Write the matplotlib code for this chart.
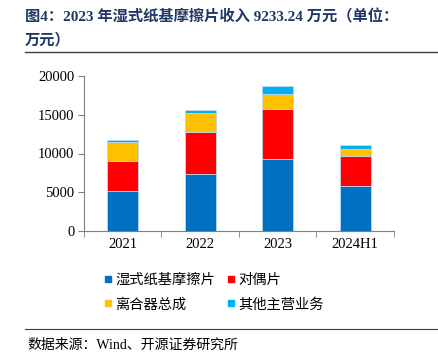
import matplotlib
matplotlib.use("Agg")
import matplotlib.pyplot as plt
from matplotlib.lines import Line2D
import numpy as np

plt.rcParams['font.family'] = ['Liberation Serif', 'Noto Sans CJK SC', 'DejaVu Sans']

categories = ['2021', '2022', '2023', '2024H1']
series_names = ['湿式纸基摩擦片', '对偶片', '离合器总成', '其他主营业务']
wet_friction = [5170, 7410, 9233, 5780]
dual_plate = [3920, 5390, 6550, 3920]
clutch_assembly = [2330, 2370, 1940, 860]
other_business = [260, 390, 990, 560]
colors = ['#0070C0', '#FF0000', '#FFC000', '#00B0F0']
yticks = [0, 5000, 10000, 15000, 20000]

fig = plt.figure(figsize=(4.39, 3.6), dpi=100)
ax = fig.add_axes([84/439, 1-231/360, (394-84)/439, (231-76)/360])

x = np.arange(len(categories))
bottom = np.zeros(len(categories))
for name, vals, c in zip(series_names, [wet_friction, dual_plate, clutch_assembly, other_business], colors):
    ax.bar(x, vals, width=0.4, bottom=bottom, color=c, edgecolor='#BDD7EE', linewidth=0.6, label=name)
    bottom += np.array(vals)

ax.set_xlim(-0.5, len(categories) - 0.5)
ax.set_ylim(0, 20000)
ax.set_yticks(yticks)
ax.set_yticklabels([str(v) for v in yticks], fontsize=10.5)
ax.set_xticks(x)
ax.set_xticklabels(categories, fontsize=10.5)
ax.tick_params(axis='x', which='major', length=0, pad=5)
ax.set_xticks(np.arange(-0.5, len(categories), 1.0), minor=True)
ax.tick_params(axis='x', which='minor', length=4, color='#808080', direction='out')
ax.tick_params(axis='y', length=4, color='#808080', direction='out', pad=3)
for s in ['top', 'right']:
    ax.spines[s].set_visible(False)
for s in ['left', 'bottom']:
    ax.spines[s].set_color('#808080')
    ax.spines[s].set_linewidth(0.8)

handles = [Line2D([], [], marker='s', linestyle='none', markersize=5, color=c) for c in colors]
order = [0, 2, 1, 3]  # row-wise order: wet, dual / clutch, other
fig.legend([handles[i] for i in order], [series_names[i] for i in order], ncol=2, loc='center',
           bbox_to_anchor=(0.485, 1-292/360),
           frameon=False, prop={'family': ['Noto Sans CJK SC'], 'size': 10.3},
           handletextpad=0.1, columnspacing=0.7, labelspacing=0.75, handlelength=0.8)

title_color = '#1F3864'
fig.text(25/439, 1-17/360, '图4：2023 年湿式纸基摩擦片收入 9233.24 万元（单位：', fontsize=11,
         fontweight='bold', color=title_color, va='center', ha='left')
fig.text(25/439, 1-40/360, '万元）', fontsize=11, fontweight='bold', color=title_color,
         va='center', ha='left')
fig.add_artist(Line2D([25/439, 437/439], [1-52/360, 1-52/360], color='#404040', linewidth=1.0))
fig.add_artist(Line2D([25/439, 437/439], [1-329/360, 1-329/360], color='#404040', linewidth=0.8))
fig.text(27/439, 1-345/360, '数据来源：Wind、开源证券研究所', fontsize=10, color='black',
         va='center', ha='left')

fig.savefig('out.png', dpi=100)
